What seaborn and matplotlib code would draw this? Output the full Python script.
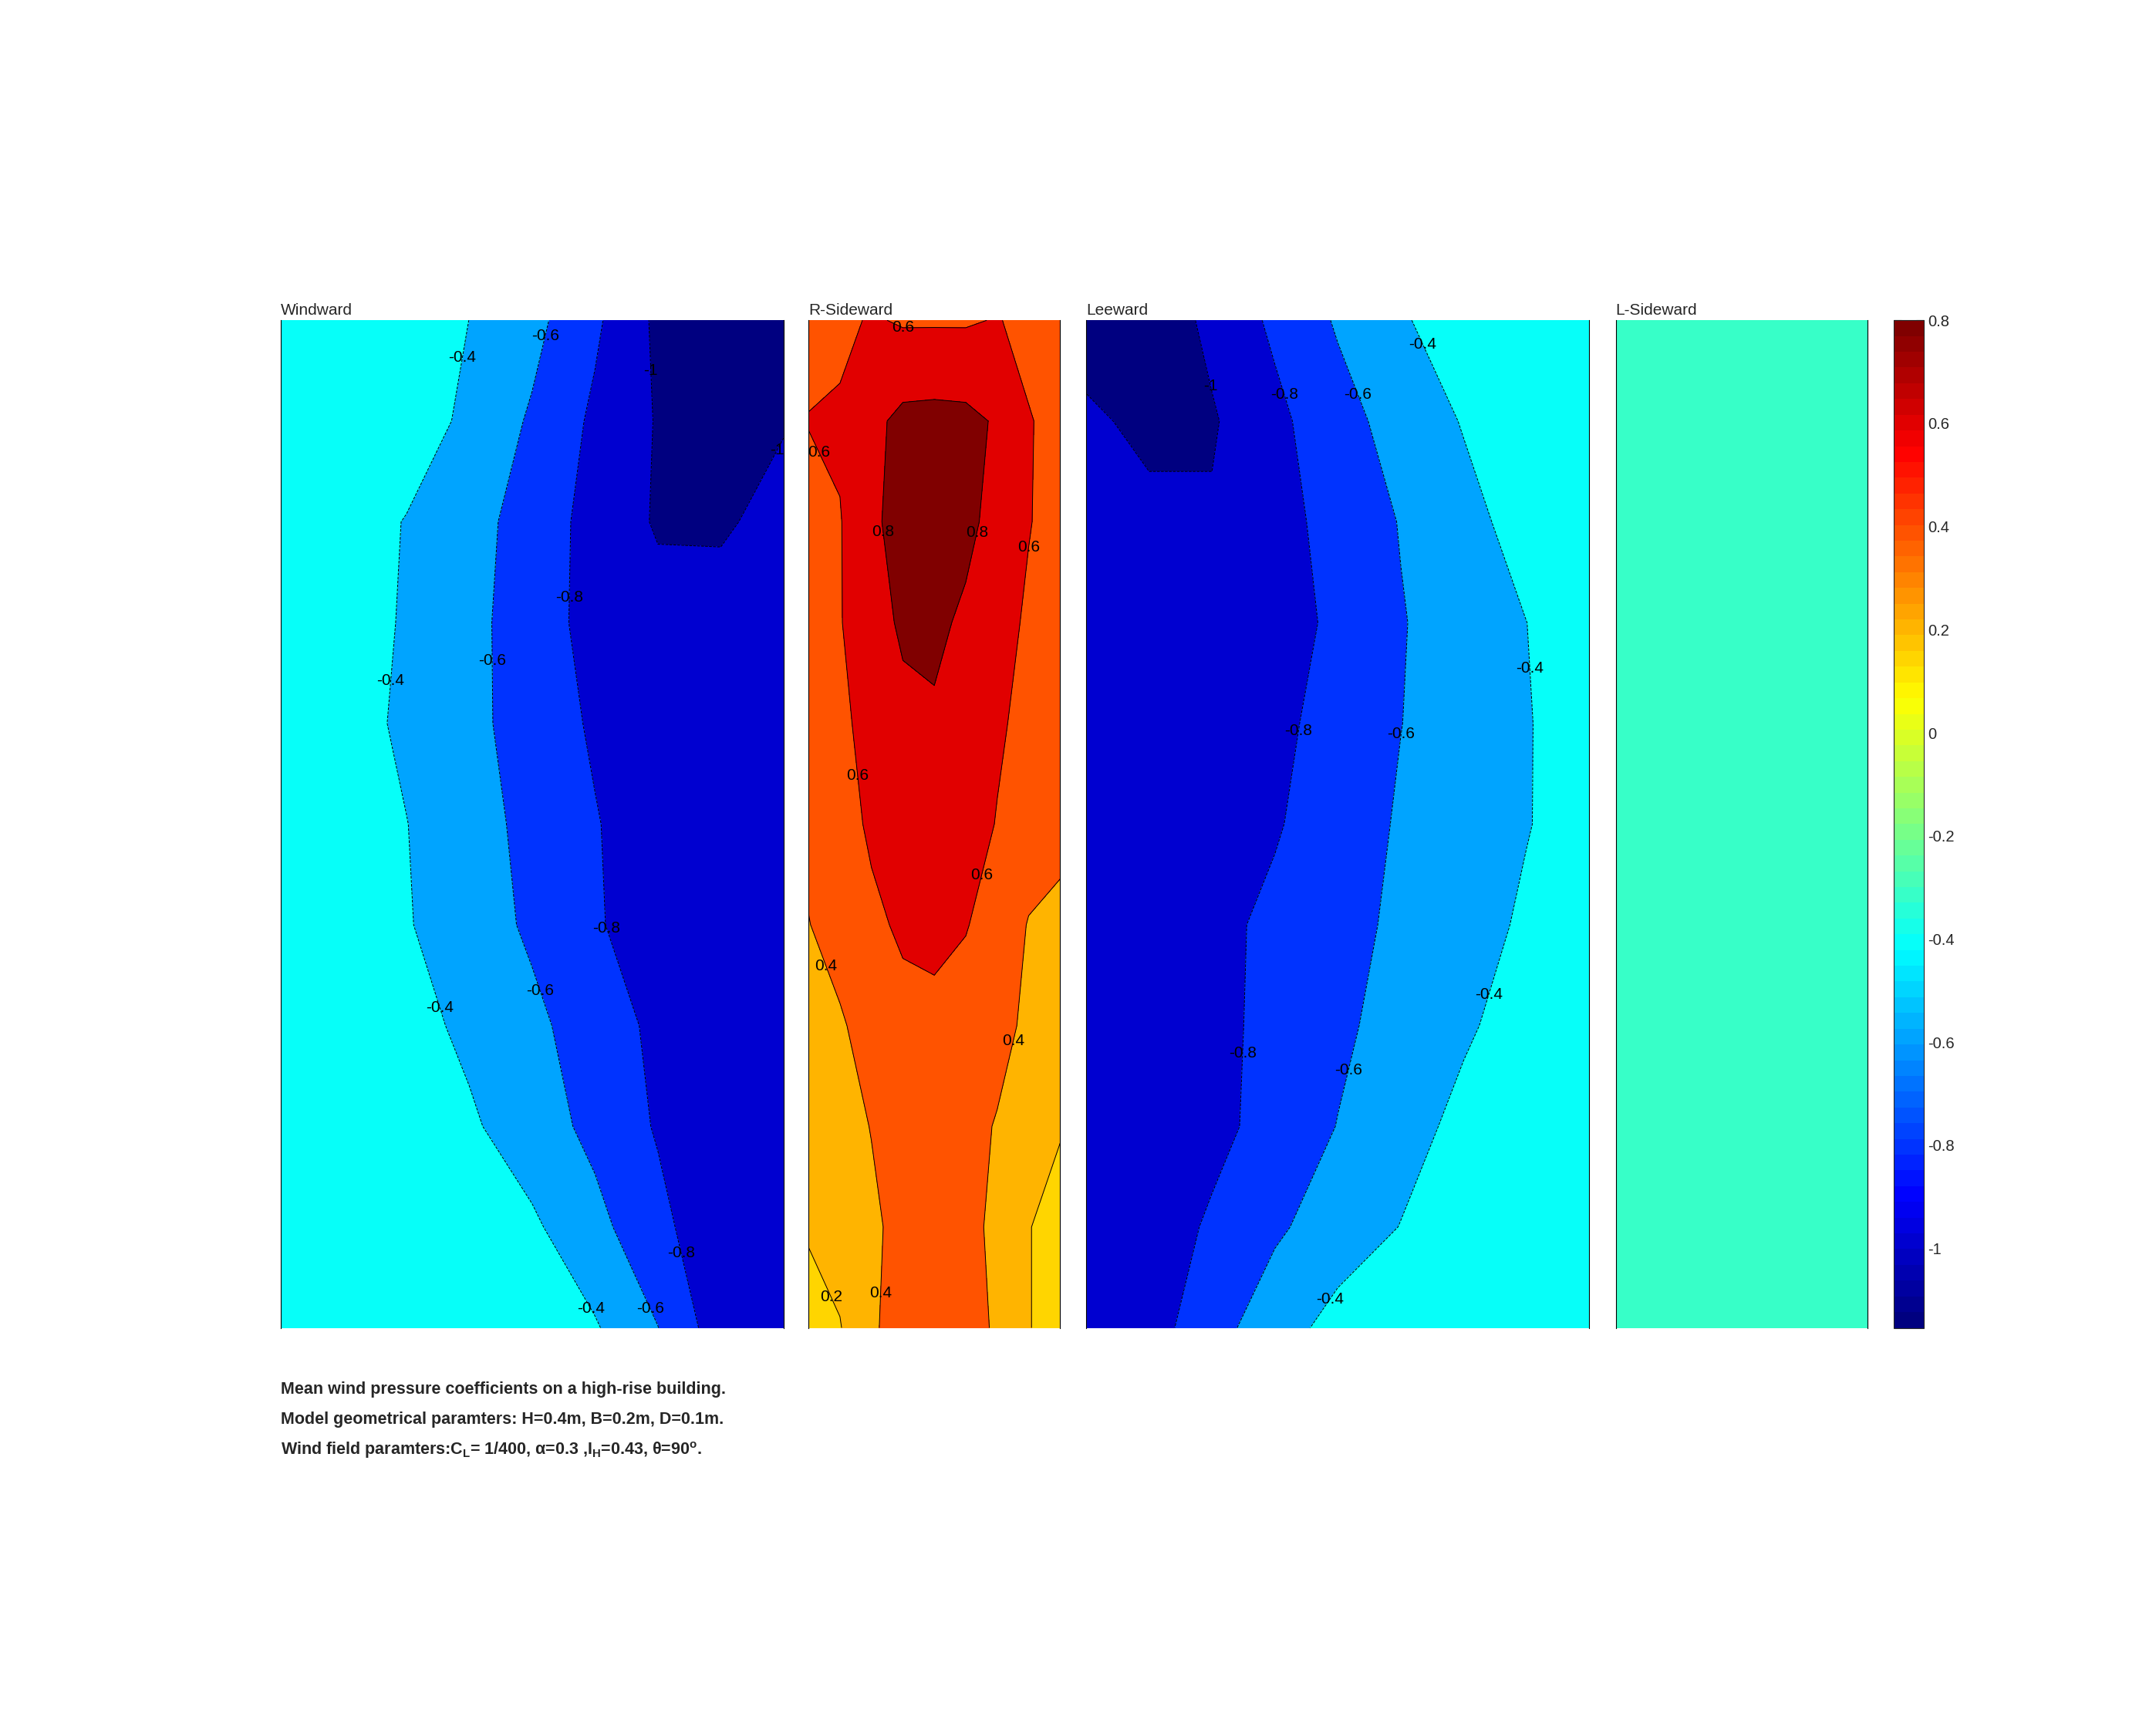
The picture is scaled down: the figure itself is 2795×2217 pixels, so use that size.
import numpy as np
import matplotlib
matplotlib.use('Agg')
import matplotlib.pyplot as plt
from matplotlib.colors import LinearSegmentedColormap, Normalize
import seaborn as sns

# grid: heights (m) and horizontal positions (m) on each face
heights = [0.00, 0.04, 0.08, 0.12, 0.16, 0.20, 0.24, 0.28, 0.32, 0.36, 0.40]
x_wide = [0.000, 0.025, 0.050, 0.075, 0.100, 0.125, 0.150, 0.175, 0.200]
x_side = [0.0000, 0.0125, 0.0250, 0.0375, 0.0500, 0.0625, 0.0750, 0.0875, 0.1000]

# mean Cp, rows from bottom (z=0) to top (z=0.4)
windward = [
    [-0.25, -0.25, -0.25, -0.25, -0.25, -0.381, -0.597, -0.911, -0.95],
    [-0.25, -0.25, -0.25, -0.25, -0.368, -0.543, -0.742, -0.954, -0.96],
    [-0.25, -0.25, -0.25, -0.371, -0.506, -0.651, -0.819, -0.92, -0.95],
    [-0.25, -0.25, -0.329, -0.443, -0.557, -0.694, -0.845, -0.93, -0.95],
    [-0.25, -0.265, -0.386, -0.506, -0.631, -0.776, -0.92, -0.94, -0.95],
    [-0.25, -0.269, -0.396, -0.523, -0.653, -0.787, -0.921, -0.94, -0.94],
    [-0.25, -0.320, -0.435, -0.550, -0.683, -0.828, -0.90, -0.92, -0.92],
    [-0.25, -0.297, -0.421, -0.545, -0.698, -0.873, -0.93, -0.94, -0.92],
    [-0.25, -0.289, -0.410, -0.530, -0.682, -0.874, -1.02, -1.02, -0.95],
    [-0.25, -0.25, -0.277, -0.448, -0.625, -0.837, -1.014, -1.03, -1.01],
    [-0.25, -0.25, -0.26, -0.401, -0.540, -0.765, -1.04, -1.12, -1.154],
]
r_sideward = [
    [0.16, 0.19, 0.38, 0.46, 0.48, 0.46, 0.38, 0.205, 0.15],
    [0.21, 0.28, 0.37, 0.45, 0.47, 0.44, 0.37, 0.205, 0.15],
    [0.30, 0.34, 0.405, 0.47, 0.49, 0.45, 0.39, 0.33, 0.21],
    [0.33, 0.38, 0.47, 0.54, 0.55, 0.52, 0.45, 0.37, 0.34],
    [0.395, 0.47, 0.56, 0.63, 0.65, 0.61, 0.52, 0.39, 0.35],
    [0.44, 0.52, 0.63, 0.70, 0.72, 0.70, 0.59, 0.50, 0.46],
    [0.45, 0.55, 0.68, 0.75, 0.77, 0.72, 0.63, 0.54, 0.48],
    [0.48, 0.59, 0.72, 0.83, 0.85, 0.76, 0.68, 0.57, 0.50],
    [0.50, 0.59, 0.76, 0.88, 0.90, 0.86, 0.72, 0.61, 0.52],
    [0.61, 0.63, 0.75, 0.85, 0.86, 0.85, 0.78, 0.61, 0.55],
    [0.50, 0.55, 0.62, 0.58, 0.58, 0.58, 0.61, 0.55, 0.50],
]
leeward = [
    [-0.96, -0.888, -0.672, -0.492, -0.328, -0.25, -0.25, -0.25, -0.25],
    [-0.96, -0.914, -0.771, -0.629, -0.509, -0.395, -0.282, -0.25, -0.25],
    [-0.96, -0.96, -0.858, -0.726, -0.595, -0.473, -0.351, -0.25, -0.25],
    [-0.96, -0.96, -0.855, -0.746, -0.636, -0.530, -0.426, -0.322, -0.25],
    [-0.96, -0.949, -0.853, -0.757, -0.661, -0.565, -0.470, -0.375, -0.28],
    [-0.96, -0.96, -0.94, -0.818, -0.696, -0.581, -0.495, -0.408, -0.322],
    [-0.96, -0.96, -0.96, -0.848, -0.726, -0.603, -0.506, -0.410, -0.314],
    [-0.95, -0.96, -0.96, -0.897, -0.755, -0.612, -0.505, -0.401, -0.297],
    [-0.95, -0.96, -0.98, -0.871, -0.730, -0.591, -0.459, -0.327, -0.25],
    [-0.97, -1.04, -1.02, -0.849, -0.673, -0.522, -0.388, -0.255, -0.24],
    [-1.08, -1.14, -0.95, -0.762, -0.579, -0.427, -0.274, -0.25, -0.24],
]
l_side_x = [0.0, 0.1]
l_side_z = [0.0, 0.4]
l_sideward = [[-0.32, -0.32], [-0.32, -0.32]]

neg_levels = [-1.0, -0.8, -0.6, -0.4]
pos_levels = [0.2, 0.4, 0.6, 0.8]
cbar_ticks = [-1.0, -0.8, -0.6, -0.4, -0.2, 0.0, 0.2, 0.4, 0.6, 0.8]
cbar_labels = ['-1', '-0.8', '-0.6', '-0.4', '-0.2', '0', '0.2', '0.4', '0.6', '0.8']

# label spots (x, z) for the contour labels
wind_lab = [(0.074, 0.385), (0.109, 0.393), (0.145, 0.380), (0.191, 0.352), (0.115, 0.290),
            (0.086, 0.265), (0.043, 0.257), (0.131, 0.159), (0.104, 0.134), (0.066, 0.128),
            (0.160, 0.030), (0.150, 0.009), (0.122, 0.007)]
rside_lab = [(0.037, 0.396), (0.0115, 0.351), (0.0295, 0.316), (0.0656, 0.316), (0.0852, 0.310),
             (0.0186, 0.219), (0.0721, 0.179), (0.0109, 0.145), (0.0814, 0.114), (0.0126, 0.014),
             (0.0268, 0.014)]
lee_lab = [(0.050, 0.374), (0.080, 0.371), (0.107, 0.370), (0.135, 0.391), (0.181, 0.262),
           (0.085, 0.237), (0.123, 0.236), (0.164, 0.131), (0.062, 0.109), (0.105, 0.102),
           (0.099, 0.010)]

sns.set_style('white')
plt.rcParams['font.family'] = ['Liberation Sans', 'DejaVu Sans']
plt.rcParams['axes.unicode_minus'] = False
plt.rcParams['mathtext.fontset'] = 'custom'
plt.rcParams['mathtext.rm'] = 'Liberation Sans:bold'
plt.rcParams['mathtext.it'] = 'Liberation Sans:bold'
plt.rcParams['mathtext.bf'] = 'Liberation Sans:bold'

# matlab style jet with 64 colours
jet = LinearSegmentedColormap('jet64', {
    'red': [(0, 0, 0), (0.375, 0, 0), (0.625, 1, 1), (0.875, 1, 1), (1, 0.5, 0.5)],
    'green': [(0, 0, 0), (0.125, 0, 0), (0.375, 1, 1), (0.625, 1, 1), (0.875, 0, 0), (1, 0, 0)],
    'blue': [(0, 0.5, 0.5), (0.125, 1, 1), (0.375, 1, 1), (0.625, 0, 0), (1, 0, 0)],
}, N=64)
norm = Normalize(vmin=-1.154, vmax=0.8)

fig = plt.figure(figsize=(27.95, 22.17), dpi=100)

bottom, height = 0.2235, 0.5892
panels = [
    ('Windward', [0.1301, bottom, 0.2334, height], x_wide, heights, windward, neg_levels, wind_lab),
    ('R-Sideward', [0.3750, bottom, 0.1167, height], x_side, heights, r_sideward, pos_levels, rside_lab),
    ('Leeward', [0.5038, bottom, 0.2334, height], x_wide, heights, leeward, neg_levels, lee_lab),
    ('L-Sideward', [0.7494, bottom, 0.1167, height], l_side_x, l_side_z, l_sideward, [], None),
]

for name, rect, xs, zs, data, levels, labs in panels:
    ax = fig.add_axes(rect)
    z = np.array(data)
    X, Z = np.meshgrid(xs, zs)
    zmin, zmax = z.min(), z.max()
    lv = [zmin - 0.01] + levels + [zmax + 0.01]
    # region below the lowest level takes the colour of the face minimum
    cols = [jet(norm(v)) for v in [zmin] + levels]
    ax.contourf(X, Z, z, levels=lv, colors=cols)
    if levels:
        cs = ax.contour(X, Z, z, levels=levels, colors='black', linewidths=0.7)
        txt = ax.clabel(cs, fmt='%g', inline=False, fontsize=15, manual=labs)
        for t in txt:
            t.set_rotation(0)
    ax.set_xlim(xs[0], xs[-1])
    ax.set_ylim(zs[0], zs[-1])
    ax.set_xticks([])
    ax.set_yticks([])
    for s in ['top', 'bottom']:
        ax.spines[s].set_visible(False)
    for s in ['left', 'right']:
        ax.spines[s].set_color('black')
        ax.spines[s].set_linewidth(0.8)
    ax.set_title(name, loc='left', fontsize=15, pad=5)

cax = fig.add_axes([0.8782, bottom, 0.0140, height])
sm = plt.cm.ScalarMappable(norm=norm, cmap=jet)
cb = fig.colorbar(sm, cax=cax, ticks=cbar_ticks)
cb.ax.set_yticklabels(cbar_labels)
cb.outline.set_linewidth(0.8)
cax.tick_params(direction='in', left=True, right=True, length=7, width=0.8,
                labelsize=14.5, pad=4)

notes = [
    'Mean wind pressure coefficients on a high-rise building.',
    'Model geometrical paramters: H=0.4m, B=0.2m, D=0.1m.',
    r'Wind field paramters:C$_\mathrm{L}$= 1/400, α=0.3 ,I$_\mathrm{H}$=0.43, θ=90$^\mathrm{o}$.',
]
for i, line in enumerate(notes):
    fig.text(0.1302, 0.1872 - i * 0.0176, line, fontsize=15.5, fontweight='bold', va='center')

plt.savefig('out.png', dpi=100)
